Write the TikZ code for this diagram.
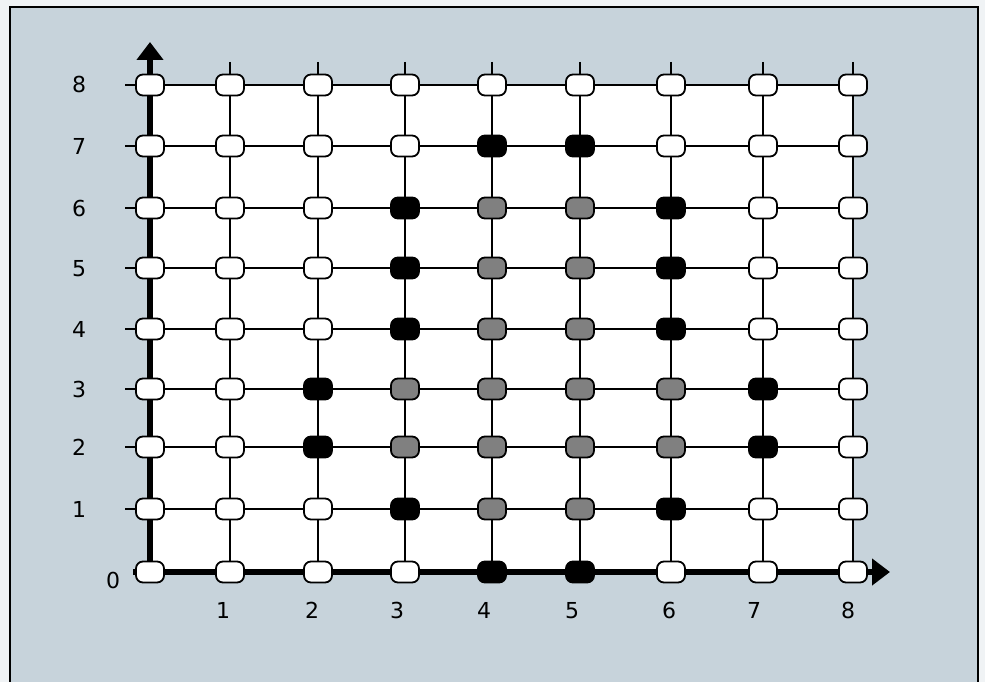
\documentclass[tikz,border=0pt]{standalone}
\usepackage{fontspec}
\setmainfont{DejaVu Sans}
\usetikzlibrary{arrows.meta}
\definecolor{bgblue}{RGB}{199,211,219}
\definecolor{dotgray}{RGB}{128,128,128}
\definecolor{paper}{RGB}{240,243,245}
\begin{document}
\begin{tikzpicture}[x=1pt,y=-1pt,
  gridline/.style={line width=1.5pt,black},
  axisline/.style={line width=5.5pt,black,-{Triangle[length=18pt,width=26pt]}},
  ptbase/.style={rectangle,draw=black,line width=1.8pt,rounded corners=7pt,
    minimum width=28pt,minimum height=21pt,inner sep=0pt},
  wn/.style={ptbase,fill=white},
  bn/.style={ptbase,fill=black},
  gn/.style={ptbase,fill=dotgray},
  lbl/.style={font=\fontsize{22}{22}\selectfont,inner sep=0pt,text height=16pt,text depth=0pt}]
\useasboundingbox (0,0) rectangle (985,682);
% frame
\fill[paper] (0,0) rectangle (985,682);
\fill[bgblue] (10,7) rectangle (978,682);
\draw[line width=1.5pt] (10,682) -- (10,7) -- (978,7) -- (978,682);
% grid coordinates
\foreach \x [count=\c from 0] in {150,230,318,405,492,580,671,763,853}{
  \foreach \y [count=\r from 0] in {572,509,447,389,329,268,208,146,85}{
    \coordinate (g-\c-\r) at (\x,\y);
  }
  \coordinate (t-\c) at (\x,62);
}
\foreach \y [count=\r from 0] in {572,509,447,389,329,268,208,146,85}{
  \coordinate (l-\r) at (125,\y);
}
\foreach \y [count=\r from 1] in {509,447,389,329,268,208,146,85}{
  \node[lbl] (yl-\r) at (79,\y) {\r};
}
\coordinate (ytip) at (150,42);
\coordinate (xstart) at (133,572);
\coordinate (xtip) at (890,572);
\coordinate (ystart) at (150,575);
% plot area
\fill[white] (g-0-0) rectangle (g-8-8);
% grid lines
\foreach \c in {1,...,8}{ \draw[gridline] (t-\c) -- (g-\c-0); }
\foreach \r in {1,...,8}{ \draw[gridline] (l-\r) -- (g-8-\r); }
% axes
\draw[axisline] (ystart) -- (ytip);
\draw[axisline] (xstart) -- (xtip);
% nodes
\foreach \r/\row in {
  8/{wn,wn,wn,wn,wn,wn,wn,wn,wn},
  7/{wn,wn,wn,wn,bn,bn,wn,wn,wn},
  6/{wn,wn,wn,bn,gn,gn,bn,wn,wn},
  5/{wn,wn,wn,bn,gn,gn,bn,wn,wn},
  4/{wn,wn,wn,bn,gn,gn,bn,wn,wn},
  3/{wn,wn,bn,gn,gn,gn,gn,bn,wn},
  2/{wn,wn,bn,gn,gn,gn,gn,bn,wn},
  1/{wn,wn,wn,bn,gn,gn,bn,wn,wn},
  0/{wn,wn,wn,wn,bn,bn,wn,wn,wn}}{
  \foreach \s [count=\c from 0] in \row {
    \node[\s] (n-\c-\r) at (g-\c-\r) {};
  }
}
% x labels
\foreach \x [count=\c] in {223,312,397,484,572,669,754,848}{
  \node[lbl] (xl-\c) at (\x,610) {\c};
}
\node[lbl] (xl-0) at (113,580) {0};
\end{tikzpicture}
\end{document}
